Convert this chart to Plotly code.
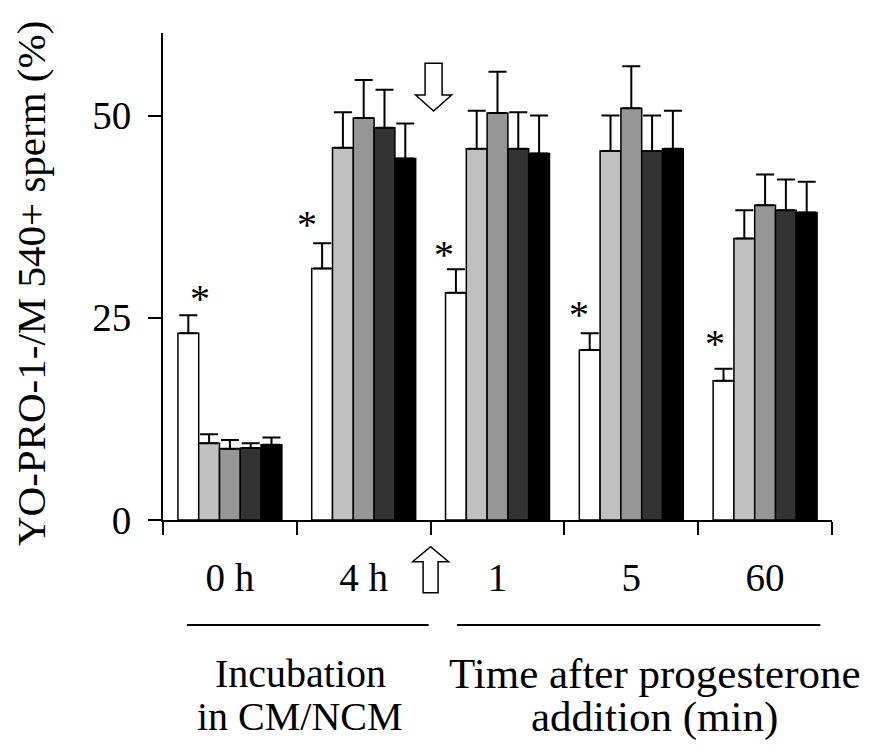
import plotly.graph_objects as go

# ---- data ----
categories = ["0 h", "4 h", "1", "5", "60"]
series_names = ["Group 1", "Group 2", "Group 3", "Group 4", "Group 5"]
white_vals = [23.1, 31.1, 28.1, 21.0, 17.2]
white_err = [2.2, 3.1, 2.9, 2.1, 1.5]
light_vals = [9.5, 46.0, 45.9, 45.6, 34.8]
light_err = [1.1, 4.4, 4.7, 4.4, 3.5]
mid_vals = [8.8, 49.7, 50.3, 50.9, 38.9]
mid_err = [1.1, 4.7, 5.1, 5.2, 3.8]
dark_vals = [8.9, 48.5, 45.9, 45.6, 38.3]
dark_err = [0.6, 4.7, 4.5, 4.4, 3.8]
black_vals = [9.3, 44.7, 45.3, 45.9, 38.0]
black_err = [0.9, 4.3, 4.7, 4.7, 3.8]
y_ticks = [0, 25, 50]
y_title = "YO-PRO-1-/M 540+ sperm (%)"
group_label_left = ["Incubation", "in CM/NCM"]
group_label_right = ["Time after progesterone", "addition (min)"]

# ---- style ----
FONT = "Liberation Serif"
colors = ["#ffffff", "#c0c0c0", "#969696", "#333333", "#000000"]
values = [white_vals, light_vals, mid_vals, dark_vals, black_vals]
errors = [white_err, light_err, mid_err, dark_err, black_err]
BARGAP = 0.223

fig = go.Figure()
for name, col, v, e in zip(series_names, colors, values, errors):
    fig.add_trace(go.Bar(
        x=categories, y=v, name=name,
        marker=dict(color=col, line=dict(color="black", width=1.5)),
        error_y=dict(type="data", array=e, arrayminus=[0] * len(e), symmetric=False,
                     color="black", thickness=2, width=9),
        showlegend=False,
    ))

# asterisks above the white bars
bar_w = (1 - BARGAP) / 5
star_xshift = [12, -15, -12, -11, -9]
star_yshift = [17, 19, 15, 19, 25]
for i, (v, e) in enumerate(zip(white_vals, white_err)):
    fig.add_annotation(x=i - 2 * bar_w, y=v + e, xref="x", yref="y", text="*",
                       showarrow=False, xanchor="center", yanchor="middle",
                       xshift=star_xshift[i], yshift=star_yshift[i],
                       font=dict(family=FONT, size=40, color="black"))

# hollow arrows at the progesterone addition boundary
down_arrow = "M -5.5,456.7 L 11.5,456.7 L 11.5,425 L 21,425 L 3,409 L -15,425 L -5.5,425 Z"
up_arrow = "M -7.5,-72.7 L 7.5,-72.7 L 7.5,-41.7 L 18,-41.7 L 0,-26.7 L -18,-41.7 L -7.5,-41.7 Z"
for p in (down_arrow, up_arrow):
    fig.add_shape(type="path", path=p, xref="x", yref="paper",
                  xsizemode="pixel", ysizemode="pixel", xanchor=1.5, yanchor=0,
                  fillcolor="white", line=dict(color="black", width=1.5), layer="above")

# group underlines
fig.add_shape(type="line", xref="x", yref="paper", x0=-0.32, x1=1.485, y0=-0.2156, y1=-0.2156,
              line=dict(color="black", width=2))
fig.add_shape(type="line", xref="x", yref="paper", x0=1.697, x1=4.413, y0=-0.2156, y1=-0.2156,
              line=dict(color="black", width=2))

# group labels (one annotation per line for tight spacing)
row_y = [-0.3142, -0.4045]
for txt, yy in zip(group_label_left, row_y):
    fig.add_annotation(x=0.2048, y=yy, xref="paper", yref="paper", text=txt, showarrow=False,
                       xanchor="center", yanchor="middle",
                       font=dict(family=FONT, size=40, color="black"))
for txt, yy in zip(group_label_right, row_y):
    fig.add_annotation(x=0.7354, y=yy, xref="paper", yref="paper", text=txt, showarrow=False,
                       xanchor="center", yanchor="middle",
                       font=dict(family=FONT, size=43, color="black"))

# y axis title
fig.add_annotation(x=-0.1973, y=0.4846, xref="paper", yref="paper", text=y_title,
                   showarrow=False, textangle=-90, xanchor="center", yanchor="middle",
                   borderpad=0, font=dict(family=FONT, size=41, color="black"))

fig.update_layout(
    width=877, height=754,
    margin=dict(l=155, r=53, t=25, b=242),
    barmode="group", bargap=BARGAP, bargroupgap=0,
    plot_bgcolor="white", paper_bgcolor="white",
    font=dict(family=FONT, size=40, color="black"),
    xaxis=dict(type="category", showline=True, linecolor="black", linewidth=2,
               ticks="outside", ticklen=13, tickwidth=2, tickcolor="black",
               tickson="boundaries", showgrid=False, zeroline=False,
               tickfont=dict(family=FONT, size=39, color="black"),
               ticklabelstandoff=22),
    yaxis=dict(range=[0, 60.2], tickvals=y_ticks, showline=True, linecolor="black",
               linewidth=2, ticks="outside", ticklen=13, tickwidth=2, tickcolor="black",
               showgrid=False, zeroline=False,
               tickfont=dict(family=FONT, size=39, color="black"),
               ticklabelstandoff=9),
)

fig.write_html("out.html")
